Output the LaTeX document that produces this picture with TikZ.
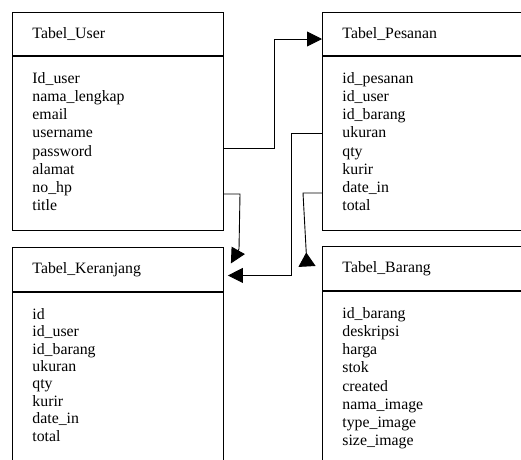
\documentclass[tikz,border=0pt]{standalone}
\usepackage{fontspec}
\setmainfont{Liberation Serif}
\usetikzlibrary{arrows.meta}

\begin{document}
\begin{tikzpicture}[x=1pt, y=-1pt, line width=0.9pt,
    font=\fontsize{15.8}{18.2}\selectfont,
    judul/.style={draw, anchor=north west, minimum height=43pt, inner xsep=20pt, text width=171pt, align=left},
    isi/.style={draw, anchor=north west, inner xsep=20pt, inner ysep=16pt},
    panah/.style={-{Triangle[length=15pt, width=15pt]}}]
  \useasboundingbox (0,0) rectangle (521,459);
  \clip (0,0) rectangle (521,459);
  % tabel atas
  \node[judul] (user) at (12,12) {Tabel\_User};
  \node[isi] (userf) at (user.south west) {\parbox[t][142pt][t]{171pt}{Id\_user\\nama\_lengkap\\email\\username\\password\\alamat\\no\_hp\\title}};
  \node[judul, text width=200pt] (pesanan) at (322,12) {Tabel\_Pesanan};
  \node[isi] (pesananf) at (pesanan.south west) {\parbox[t][142pt][t]{200pt}{id\_pesanan\\id\_user\\id\_barang\\ukuran\\qty\\kurir\\date\_in\\total}};
  % tabel bawah
  \node[judul, minimum height=44pt] (keranjang) at (12,247) {Tabel\_Keranjang};
  \node[isi] (keranjangf) at (keranjang.south west) {\parbox[t][170pt][t]{171pt}{\baselineskip=17.4pt id\\id\_user\\id\_barang\\ukuran\\qty\\kurir\\date\_in\\total}};
  \node[judul, minimum height=44pt, text width=200pt] (barang) at (322,246) {Tabel\_Barang};
  \node[isi] (barangf) at (barang.south west) {\parbox[t][170pt][t]{200pt}{id\_barang\\deskripsi\\harga\\stok\\created\\nama\_image\\type\_image\\size\_image}};
  % relasi
  \draw[panah] (userf.east |- 0,148) -- (274,148) |- (pesanan.west |- 0,39);
  \draw[panah] (userf.east |- 0,194) -- (240,194) -- (239,249) -- ([xshift=7pt, yshift=6pt]keranjang.east);
  \draw[panah] (pesananf.west |- 0,133) -- (291,133) |- ([xshift=4pt, yshift=-6pt]keranjang.east);
  \draw[-{Triangle[reversed, length=14pt, width=17pt]}] (pesananf.west |- 0,193) -- (303,193) -- ([xshift=-15pt, yshift=2pt]barang.west);
\end{tikzpicture}
\end{document}
